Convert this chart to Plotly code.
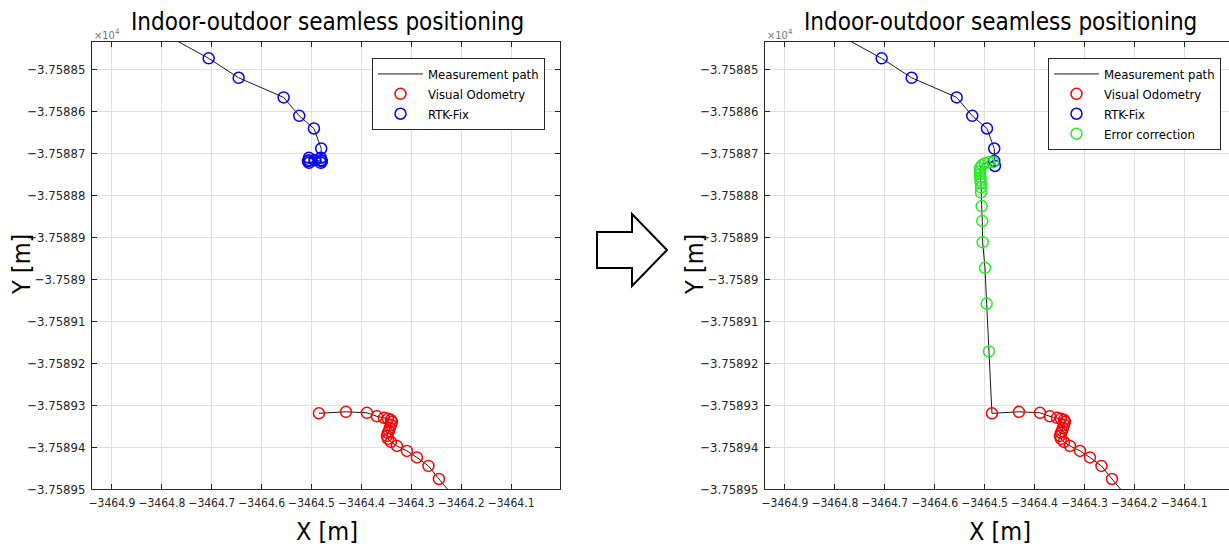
import plotly.graph_objects as go

W, H = 1229, 547
FONT = "Liberation Sans Narrow, DejaVu Sans Condensed, Arial Narrow, sans-serif"

title_text = "Indoor-outdoor seamless positioning"
x_label = "X [m]"
y_label = "Y [m]"
legend_names = ["Measurement path", "Visual Odometry", "RTK-Fix", "Error correction"]

x_ticks = [-3464.9, -3464.8, -3464.7, -3464.6, -3464.5, -3464.4, -3464.3, -3464.2, -3464.1]
y_ticks = [-37588.5, -37588.6, -37588.7, -37588.8, -37588.9, -37589.0,
           -37589.1, -37589.2, -37589.3, -37589.4, -37589.5]
y_tick_labels = ["\u22123.75885", "\u22123.75886", "\u22123.75887", "\u22123.75888",
                 "\u22123.75889", "\u22123.7589", "\u22123.75891", "\u22123.75892",
                 "\u22123.75893", "\u22123.75894", "\u22123.75895"]

# path enters / leaves the view
path_start = (-3464.8098, -37588.4069)
path_end = (-3464.2126, -37589.5215)

# RTK-Fix, left panel
rtk_left_x = [-3464.7062, -3464.6461, -3464.5559, -3464.5246, -3464.4952, -3464.4806,
              -3464.4812, -3464.4812, -3464.4812, -3464.4792, -3464.4932,
              -3464.5052, -3464.5052, -3464.5052, -3464.5072]
rtk_left_y = [-37588.4745, -37588.5208, -37588.5675, -37588.6115, -37588.6415, -37588.6893,
              -37588.7112, -37588.7172, -37588.7232, -37588.7196, -37588.7172,
              -37588.7112, -37588.7172, -37588.7232, -37588.7196]

# RTK-Fix, right panel
rtk_right_x = [-3464.7062, -3464.6461, -3464.5559, -3464.5246, -3464.4952, -3464.4806,
               -3464.4806, -3464.4792]
rtk_right_y = [-37588.4745, -37588.5208, -37588.5675, -37588.6115, -37588.6415, -37588.6893,
               -37588.7189, -37588.7308]

# Visual Odometry (both panels)
vo_x = [-3464.4852, -3464.4311, -3464.3890, -3464.3689, -3464.3549, -3464.3469, -3464.3409,
        -3464.3389, -3464.3409, -3464.3429, -3464.3449, -3464.3469, -3464.3489, -3464.3469,
        -3464.3409, -3464.3289, -3464.3088, -3464.2888, -3464.2657, -3464.2447]
vo_y = [-37589.3198, -37589.3162, -37589.3186, -37589.3270, -37589.3305, -37589.3329,
        -37589.3353, -37589.3401, -37589.3473, -37589.3544, -37589.3616, -37589.3663,
        -37589.3735, -37589.3807, -37589.3878, -37589.3974, -37589.4093, -37589.4248,
        -37589.4451, -37589.4761]

# Error correction (right panel)
ec_x = [-3464.4832, -3464.4912, -3464.4992, -3464.5052, -3464.5092, -3464.5092, -3464.5092,
        -3464.5082, -3464.5082, -3464.5072, -3464.5072, -3464.5072, -3464.5058, -3464.5046,
        -3464.5038, -3464.4992, -3464.4958, -3464.4912]
ec_y = [-37588.7220, -37588.7220, -37588.7243, -37588.7291, -37588.7363, -37588.7434,
        -37588.7506, -37588.7578, -37588.7649, -37588.7721, -37588.7816, -37588.7936,
        -37588.8263, -37588.8621, -37588.9122, -37588.9733, -37589.0585, -37589.1723]

path_left_x = [path_start[0]] + rtk_left_x + [None] + vo_x + [path_end[0]]
path_left_y = [path_start[1]] + rtk_left_y + [None] + vo_y + [path_end[1]]
path_right_x = [path_start[0]] + rtk_right_x + ec_x + vo_x + [path_end[0]]
path_right_y = [path_start[1]] + rtk_right_y + ec_y + vo_y + [path_end[1]]


def px(x):
    return x / W


def py(y):
    return 1 - y / H


fig = go.Figure()
mk = dict(symbol="circle-open", size=11, line=dict(width=1.5))

# left panel
fig.add_trace(go.Scatter(x=path_left_x, y=path_left_y, mode="lines", name=legend_names[0],
                         line=dict(color="#1a1a1a", width=1), xaxis="x", yaxis="y",
                         legend="legend"))
fig.add_trace(go.Scatter(x=vo_x, y=vo_y, mode="markers", name=legend_names[1],
                         marker=dict(color="#ff0000", **mk), xaxis="x", yaxis="y", legend="legend"))
fig.add_trace(go.Scatter(x=rtk_left_x, y=rtk_left_y, mode="markers", name=legend_names[2],
                         marker=dict(color="#0000ff", **mk), xaxis="x", yaxis="y", legend="legend"))

# right panel
fig.add_trace(go.Scatter(x=path_right_x, y=path_right_y, mode="lines", name=legend_names[0],
                         line=dict(color="#1a1a1a", width=1), xaxis="x2", yaxis="y2",
                         legend="legend2"))
fig.add_trace(go.Scatter(x=vo_x, y=vo_y, mode="markers", name=legend_names[1],
                         marker=dict(color="#ff0000", **mk), xaxis="x2", yaxis="y2", legend="legend2"))
fig.add_trace(go.Scatter(x=rtk_right_x, y=rtk_right_y, mode="markers", name=legend_names[2],
                         marker=dict(color="#0000ff", **mk), xaxis="x2", yaxis="y2", legend="legend2"))
fig.add_trace(go.Scatter(x=ec_x, y=ec_y, mode="markers", name=legend_names[3],
                         marker=dict(color="#22ee22", **mk), xaxis="x2", yaxis="y2", legend="legend2"))

axis_common = dict(showline=True, linecolor="#262626", linewidth=1,
                   ticks="inside", ticklen=5, tickcolor="#262626", showgrid=True,
                   gridcolor="#e0e0e0", gridwidth=1, zeroline=False,
                   ticklabelstandoff=3, tickangle=0, automargin=False)
xfont = dict(family=FONT, size=12, color="#262626")
yfont = dict(family=FONT, size=13, color="#262626")

xdom_l = [px(92), px(560)]
xdom_r = [px(765), 1.0]
ydom = [py(489), py(42)]
xr_l = [-3464.94, -3464.002]
xr_r = [-3464.94, -3464.94 + (W - 765) / 499.0]
yr = [-37589.5, -37588.4356]

leg_common = dict(xanchor="left", yanchor="top", bordercolor="#262626", borderwidth=1,
                  bgcolor="white", font=dict(family=FONT, size=13, color="#000000"),
                  itemwidth=45, tracegroupgap=0)

fig.update_layout(
    width=W, height=H, margin=dict(l=0, r=0, t=0, b=0),
    paper_bgcolor="white", plot_bgcolor="white",
    font=dict(family=FONT, color="#000000"),
    xaxis=dict(domain=xdom_l, range=xr_l, tickvals=x_ticks, tickformat=".1f",
               anchor="y", mirror="allticks", tickfont=xfont, **axis_common),
    yaxis=dict(domain=ydom, range=yr, tickvals=y_ticks, ticktext=y_tick_labels,
               anchor="x", mirror="allticks", tickfont=yfont, **axis_common),
    xaxis2=dict(domain=xdom_r, range=xr_r, tickvals=x_ticks, tickformat=".1f",
                anchor="y2", mirror="allticks", tickfont=xfont, **axis_common),
    yaxis2=dict(domain=ydom, range=yr, tickvals=y_ticks, ticktext=y_tick_labels,
                anchor="x2", mirror=False, tickfont=yfont, **axis_common),
    legend=dict(x=px(372), y=py(58), **leg_common),
    legend2=dict(x=px(1048), y=py(58), **leg_common),
    showlegend=True,
)

annotations = []
for cx, ax_left in [(327, 92), (1000, 765)]:
    annotations.append(dict(x=px(cx), y=py(22), xref="paper", yref="paper", text=title_text,
                            showarrow=False, xanchor="center", yanchor="middle",
                            font=dict(family=FONT, size=24, color="#000000")))
    annotations.append(dict(x=px(cx), y=py(531), xref="paper", yref="paper", text=x_label,
                            showarrow=False, xanchor="center", yanchor="middle",
                            font=dict(family=FONT, size=25, color="#000000")))
    annotations.append(dict(x=px(ax_left - 71), y=py(265), xref="paper", yref="paper",
                            text=y_label, textangle=-90, showarrow=False,
                            xanchor="center", yanchor="middle",
                            font=dict(family=FONT, size=25, color="#000000")))
    annotations.append(dict(x=px(ax_left), y=py(34), xref="paper", yref="paper",
                            text="\u00d710<sup>4</sup>", showarrow=False,
                            xanchor="left", yanchor="middle",
                            font=dict(family=FONT, size=11, color="#777777")))
fig.update_layout(annotations=annotations)

arrow_pts = [(597, 232), (632, 232), (632, 214), (667, 250), (632, 286), (632, 268), (597, 268)]
path = "M " + " L ".join(f"{px(a):.5f},{py(b):.5f}" for a, b in arrow_pts) + " Z"
fig.add_shape(type="path", path=path, xref="paper", yref="paper",
              line=dict(color="#000000", width=2), fillcolor="white")

fig.write_html("out.html", config={"displayModeBar": False},
               post_script="document.body.style.margin='0';document.body.style.overflow='hidden';")
